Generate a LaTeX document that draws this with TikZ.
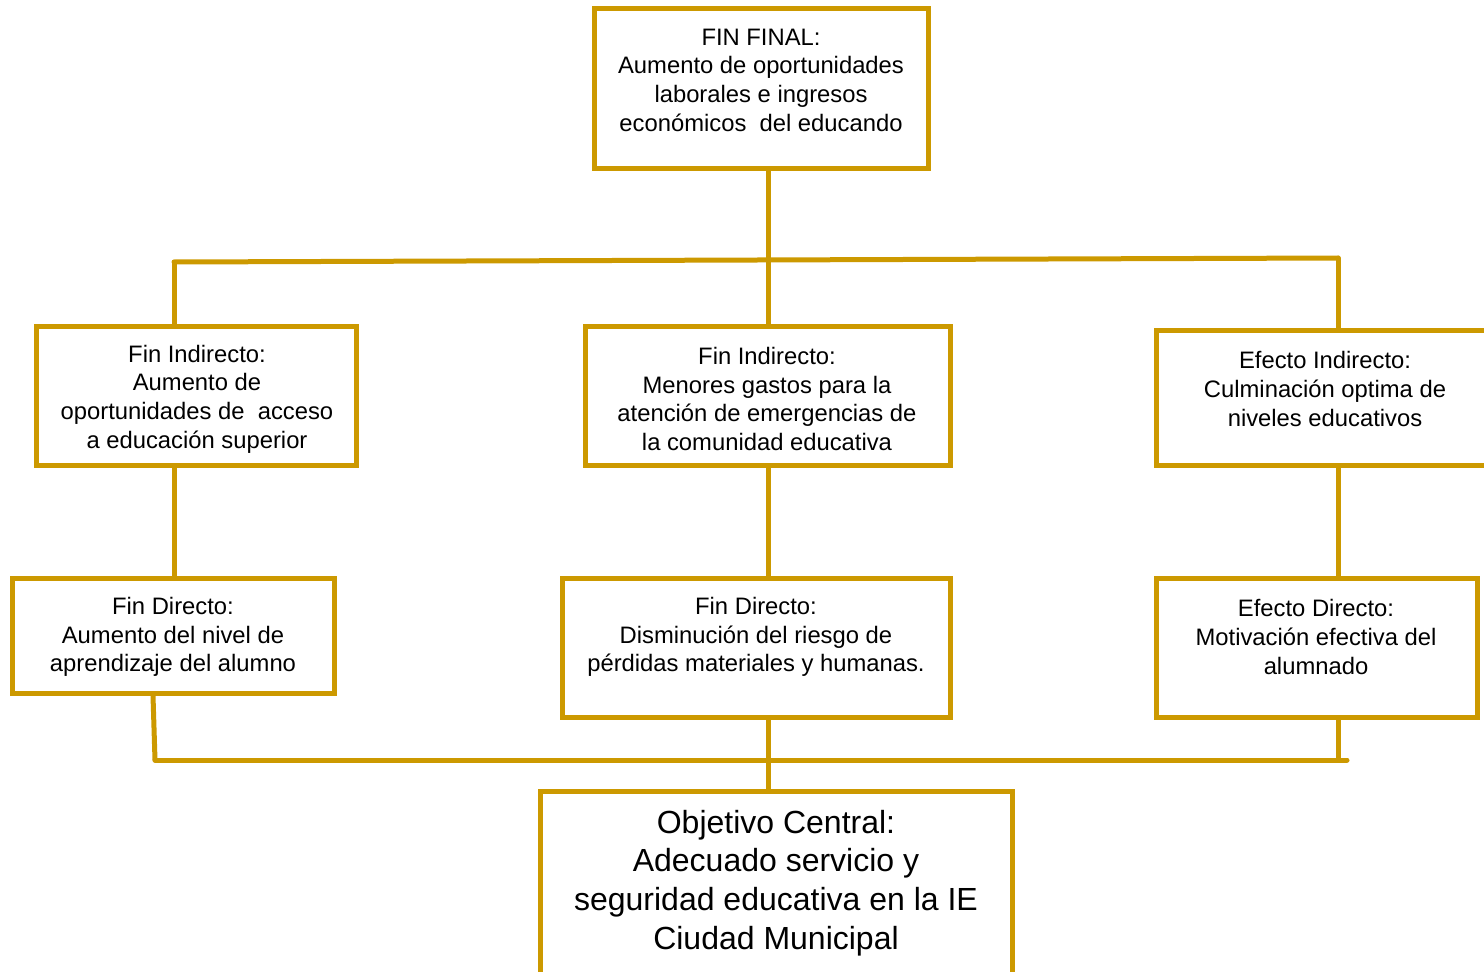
\documentclass[tikz,border=0pt]{standalone}
\usepackage{fontspec}
\setmainfont{Liberation Sans}
\definecolor{oro}{RGB}{204,153,0}

\begin{document}
\begin{tikzpicture}[
    x=1bp, y=-1bp,
    box/.style={rectangle, draw=oro, line width=5bp, fill=white},
    txt/.style={align=center, inner sep=0pt, font=\fontsize{23.8bp}{28.7bp}\selectfont},
    bigtxt/.style={align=center, inner sep=0pt, font=\fontsize{32bp}{38.6bp}\selectfont},
    link/.style={draw=oro, line width=5bp, line cap=round}
]
\useasboundingbox (0,0) rectangle (1484,971);

% Junction points of the links
\coordinate (busL) at (174,262);
\coordinate (busR) at (1338,258);
\coordinate (mid) at (768,760);
\coordinate (botL) at (155,760);
\coordinate (botR) at (1347,760);

% Final goal
\node[box, minimum width=334bp, minimum height=160bp] (fin) at (761,88) {};
\node[txt] (fint) at (761,80) {FIN FINAL:\\Aumento de oportunidades\\laborales e ingresos\\económicos\ \ del educando};

% Indirect level
\node[box, minimum width=319bp, minimum height=139bp] (l1) at (196.5,395.5) {};
\node[txt] (l1t) at (197,399) {Fin Indirecto:\\Aumento de\\oportunidades de\ \ acceso\\a educación superior};
\node[box, minimum width=365bp, minimum height=139bp] (m1) at (767.5,395.5) {};
\node[txt] (m1t) at (767,399) {Fin Indirecto:\\Menores gastos para la\\atención de emergencias de\\la comunidad educativa};
\node[box, minimum width=344bp, minimum height=135bp] (r1) at (1328,397.5) {};
\node[txt] (r1t) at (1325,389) {Efecto Indirecto:\\Culminación optima de\\niveles educativos};

% Direct level
\node[box, minimum width=321bp, minimum height=115bp] (l2) at (173.5,635.5) {};
\node[txt] (l2t) at (173,637) {Fin Directo:\\Aumento del nivel de\\aprendizaje del alumno};
\node[box, minimum width=388bp, minimum height=139bp] (m2) at (756,647.5) {};
\node[txt] (m2t) at (756,637) {Fin Directo:\\Disminución del riesgo de\\pérdidas materiales y humanas.};
\node[box, minimum width=321bp, minimum height=139bp] (r2) at (1316.5,647.5) {};
\node[txt] (r2t) at (1316,637) {Efecto Directo:\\Motivación efectiva del\\alumnado};

% Central objective
\node[box, minimum width=472bp, minimum height=200bp] (obj) at (776,891) {};
\node[bigtxt] (objt) at (776,883) {Objetivo Central:\\Adecuado servicio y\\seguridad educativa en la IE\\Ciudad Municipal};

% Tree links
\draw[link] (mid |- fin.south) -- (mid |- m1.north);
\draw[link] (busL) -- (busR);
\draw[link] (busL) -- (busL |- l1.north);
\draw[link] (busR) -- (busR |- r1.north);
\draw[link] (busL |- l1.south) -- (busL |- l2.north);
\draw[link] (mid |- m1.south) -- (mid |- m2.north);
\draw[link] (busR |- r1.south) -- (busR |- r2.north);
\draw[link] (153,0 |- l2.south) -- (botL);
\draw[link] (botL) -- (botR);
\draw[link] (busR |- r2.south) -- (busR |- botR);
\draw[link] (mid |- m2.south) -- (mid |- obj.north);
\end{tikzpicture}
\end{document}
